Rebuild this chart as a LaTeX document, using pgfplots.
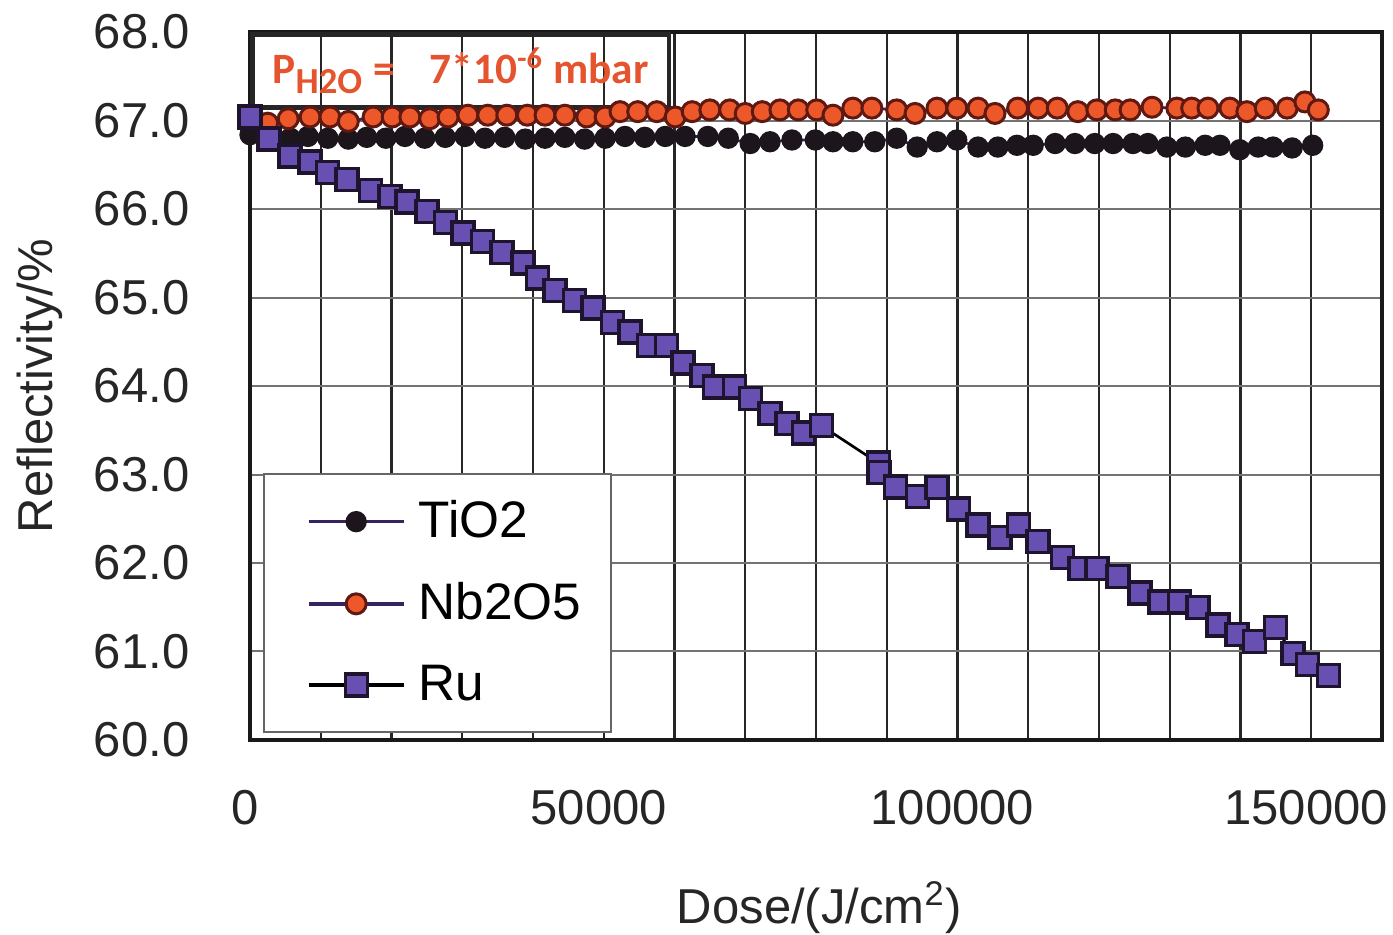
\documentclass[border=0pt]{standalone}
\usepackage{fontspec}
\setmainfont{Liberation Sans}
\newfontfamily\carlito{Carlito}
\usepackage{pgfplots}
\pgfplotsset{compat=1.18}
\definecolor{ruFill}{RGB}{104,80,178}
\definecolor{ruEdge}{RGB}{30,20,45}
\definecolor{nbFill}{RGB}{236,88,42}
\definecolor{nbEdge}{RGB}{95,25,18}
\definecolor{tiFill}{RGB}{28,22,28}
\definecolor{lineBlue}{RGB}{55,35,95}
\definecolor{ptext}{RGB}{229,84,46}
\begin{document}
\begin{tikzpicture}
\useasboundingbox (-75pt,-58.5pt) rectangle (342.9pt,222pt);
\begin{axis}[
  scale only axis,
  width=339.6pt, height=212.4pt,
  xmin=0, xmax=160000, ymin=60, ymax=68,
  xtick={0,50000,100000,150000},
  minor xtick={10000,20000,...,160000},
  ytick={60,61,...,68},
  grid=both,
  major tick length=0pt, minor tick length=0pt,
  major x grid style={black!85, line width=0.7pt},
  minor x grid style={black!85, line width=0.7pt},
  major y grid style={black!55, line width=0.6pt},
  axis line style={black!90, line width=1.2pt},
  scaled x ticks=false,
  /pgf/number format/assume math mode=true,
  tick label style={font=\fontsize{14.7}{17}\selectfont, black!85},
  xticklabel style={/pgf/number format/fixed, /pgf/number format/precision=0, /pgf/number format/1000 sep={}, anchor=north, inner sep=0pt, yshift=-15pt, xshift=-1.5pt},
  yticklabel style={/pgf/number format/fixed, /pgf/number format/fixed zerofill, /pgf/number format/precision=1, anchor=east, inner sep=0pt, xshift=-18pt},
  label style={font=\fontsize{14.7}{17}\selectfont, black!85},
  xlabel={Dose/(J/cm\textsuperscript{2})},
  ylabel={Reflectivity/\%},
  xlabel style={at={(axis description cs:0.503,-0.237)}, anchor=center},
  ylabel style={at={(axis description cs:-0.1855,0.5)}, anchor=center},
  legend image code/.code={\path (0pt,0pt); \draw[mark repeat=2,mark phase=2,line width=1pt,#1] plot coordinates {(6pt,0pt) (20.25pt,0pt) (34.5pt,0pt)};},
  legend cell align=left,
  legend style={at={(axis description cs:0.0115,0.01)}, anchor=south west,
    draw=black!60, line width=0.6pt, fill=white,
    font=\fontsize{15.4}{18}\selectfont,
    inner xsep=7pt, inner ysep=6pt, row sep=8pt},
]
% TiO2
\addplot[color=lineBlue, line width=0.8pt, mark=*, mark size=3.0pt,
  mark options={fill=tiFill, draw=tiFill, line width=0.4pt}] coordinates {
(0,66.84) (2800,66.82) (5700,66.80) (8200,66.82) (11000,66.80) (13900,66.79)
(16500,66.81) (19200,66.80) (21900,66.82) (24700,66.80) (27600,66.81) (30400,66.82)
(33200,66.80) (36000,66.81) (38900,66.79) (41700,66.80) (44500,66.81) (47300,66.79)
(50200,66.80) (53000,66.82) (55800,66.81) (58700,66.82)
(61500,66.82) (64700,66.82) (67600,66.80) (70700,66.74) (73500,66.76) (76600,66.78)
(79900,66.78) (82400,66.76) (85200,66.76) (88300,66.76) (91400,66.80) (94300,66.70)
(97100,66.76) (99900,66.78) (102900,66.70) (105700,66.70) (108400,66.72) (110700,66.72)
(113800,66.74) (116600,66.74) (119400,66.74) (122000,66.74) (124800,66.74)
(126900,66.74) (129600,66.70) (132200,66.70) (135000,66.72) (137100,66.72) (139900,66.67)
(142500,66.70) (144600,66.70) (147300,66.69) (150200,66.72)
};
\addlegendentry{\hspace{2pt}TiO2}
% Nb2O5
\addplot[color=lineBlue, line width=0.8pt, mark=*, mark size=3.0pt,
  mark options={fill=nbFill, draw=nbEdge, line width=0.9pt}] coordinates {
(2500,66.97) (5400,67.02) (8500,67.04) (11300,67.04) (13900,66.99) (17400,67.04)
(20100,67.04) (22600,67.04) (25400,67.02) (28000,67.04) (30800,67.06) (33600,67.06)
(36300,67.06) (39200,67.06) (41700,67.06) (44500,67.06) (47600,67.04) (50200,67.04)
(52300,67.10) (54800,67.10) (57500,67.10) (60100,67.04)
(62500,67.10) (65000,67.12) (67800,67.12) (70000,67.08) (72400,67.10) (74900,67.12)
(77500,67.12) (80100,67.12) (82400,67.06) (85200,67.14) (87900,67.14) (91400,67.12)
(94000,67.08) (97100,67.14) (99900,67.14) (102900,67.14) (105300,67.08) (108500,67.14)
(111400,67.14) (114100,67.14) (117000,67.10) (119700,67.12) (122300,67.12) (124400,67.12)
(127500,67.15) (131000,67.14) (133100,67.14) (135400,67.14) (138500,67.14) (140900,67.10)
(143500,67.14) (146600,67.14) (149100,67.21) (151000,67.12)
};
\addlegendentry{\hspace{2pt}Nb2O5}
% Ru
\addplot[color=black, line width=0.8pt, mark=square*, mark size=3.3pt,
  mark options={fill=ruFill, draw=ruEdge, line width=1pt}] coordinates {
(0,67.04) (2700,66.79) (5650,66.60) (8480,66.53) (11000,66.41) (13700,66.33)
(17000,66.21) (19800,66.14) (22200,66.08) (25000,65.97) (27600,65.85) (30100,65.73)
(32900,65.63) (35600,65.51) (38600,65.39) (40600,65.22) (43100,65.08) (45900,64.97)
(48500,64.88) (51200,64.72) (53700,64.61) (56300,64.46) (58900,64.46) (61200,64.26)
(63900,64.12) (65700,63.99) (68500,63.99) (70700,63.86) (73500,63.69) (75900,63.58)
(78200,63.47) (80800,63.55) (88800,63.13) (88900,63.02) (91200,62.86) (94300,62.75)
(97100,62.85) (100100,62.61) (102900,62.43) (106000,62.29) (108600,62.43) (111400,62.24)
(114800,62.06) (117300,61.94) (119700,61.94) (122700,61.85) (125800,61.66) (128600,61.56)
(131400,61.56) (134000,61.50) (136800,61.30) (139500,61.19) (142000,61.11) (144900,61.27)
(147400,60.98) (149500,60.85) (152400,60.73)
};
\addlegendentry{\hspace{2pt}Ru}
\node[draw=black!85, line width=1.4pt, anchor=north west, minimum width=125pt,
  minimum height=22pt, inner sep=0pt, text=ptext,
  font=\fontsize{13}{15}\carlito\bfseries] at (rel axis cs:0,1)
  {\raisebox{1pt}{P\textsubscript{\fontsize{11}{13}\selectfont H2O} =\hspace{0.8em}7*10\textsuperscript{-6} mbar}};
\end{axis}
\end{tikzpicture}
\end{document}
